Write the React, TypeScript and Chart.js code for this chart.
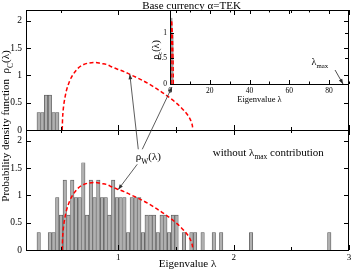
import { useEffect, useRef } from 'react';
import { Chart, registerables } from 'chart.js';

Chart.register(...registerables);

const SERIF = '"Liberation Serif", "Times New Roman", "DejaVu Serif", serif';

const topBinCenters = [0.310, 0.342, 0.374, 0.407, 0.439, 0.471];
const topDensity = [0.32, 0.32, 0.64, 0.64, 0.32, 0.32];

const bottomBinCenters = [
  0.310, 0.407, 0.439, 0.471, 0.504, 0.536, 0.568, 0.601, 0.633, 0.665, 0.697,
  0.730, 0.762, 0.794, 0.827, 0.859, 0.891, 0.923, 0.956, 0.988, 1.020, 1.053,
  1.085, 1.117, 1.150, 1.182, 1.214, 1.246, 1.279, 1.311, 1.343, 1.376, 1.408,
  1.440, 1.473, 1.505, 1.569, 1.634, 1.666, 1.731, 1.828, 1.892, 2.151, 2.829,
];
const bottomDensity = [
  0.32, 0.32, 0.32, 0.96, 0.64, 1.28, 0.64, 1.28, 0.96, 0.96, 1.60,
  0.64, 1.28, 0.96, 1.28, 0.96, 0.96, 0.64, 1.28, 0.96, 0.96, 0.96,
  0.32, 0.96, 0.96, 0.96, 0.32, 0.64, 0.64, 0.64, 0.32, 0.64, 0.64,
  0.32, 0.64, 0.64, 0.32, 0.32, 0.32, 0.32, 0.32, 0.32, 0.32, 0.32,
];

const insetBinCenters = [0.25, 0.75, 1.25];
const insetDensity = [1.28, 1.28, 0.96];

const mpLambda = [
  0.514, 0.517, 0.52, 0.525, 0.53, 0.54, 0.55, 0.575, 0.6, 0.65, 0.7, 0.75, 0.8,
  0.85, 0.9, 0.95, 1.0, 1.05, 1.1, 1.2, 1.3, 1.4, 1.5, 1.55, 1.6, 1.625, 1.635,
  1.643, 1.646,
];
const mpDensity = [
  0, 0.21, 0.31, 0.42, 0.50, 0.62, 0.72, 0.88, 0.99, 1.13, 1.20, 1.23, 1.24,
  1.22, 1.20, 1.15, 1.11, 1.07, 1.02, 0.92, 0.80, 0.66, 0.50, 0.40, 0.28, 0.19,
  0.13, 0.07, 0,
];

const lambdaMax = 87;

const mainXTickValues = [0.5, 1, 1.5, 2, 2.5, 3];
const mainXLabelValues = [1, 2, 3];
const mainYTickValues = [0, 0.5, 1, 1.5, 2];
const mainYLabelText = ['0', '0.5', '1', '1.5', '2'];
const insetXTickValues = [0, 10, 20, 30, 40, 50, 60, 70, 80, 90];
const insetXLabelValues = [0, 20, 40, 60, 80];
const insetYTickValues = [0, 0.5, 1];

type Part = [string, boolean?];

function setFont(ctx: CanvasRenderingContext2D, size: number) {
  ctx.font = `${size}px ${SERIF}`;
}
function richWidth(ctx: CanvasRenderingContext2D, parts: Part[], size: number) {
  let w = 0;
  for (const [t, sub] of parts) {
    setFont(ctx, sub ? size * 0.68 : size);
    w += ctx.measureText(t).width;
  }
  return w;
}
function drawRich(
  ctx: CanvasRenderingContext2D,
  parts: Part[],
  x: number,
  y: number,
  size: number,
  align: 'left' | 'center' = 'left'
) {
  let cx = align === 'center' ? x - richWidth(ctx, parts, size) / 2 : x;
  ctx.textAlign = 'left';
  ctx.textBaseline = 'alphabetic';
  for (const [t, sub] of parts) {
    const s = sub ? size * 0.68 : size;
    setFont(ctx, s);
    ctx.fillText(t, cx, sub ? y + size * 0.32 : y);
    cx += ctx.measureText(t).width;
  }
}
const crisp = (v: number) => Math.round(v) + 0.5;
function seg(ctx: CanvasRenderingContext2D, x1: number, y1: number, x2: number, y2: number) {
  ctx.beginPath();
  ctx.moveTo(x1, y1);
  ctx.lineTo(x2, y2);
  ctx.stroke();
}
function arrow(ctx: CanvasRenderingContext2D, x1: number, y1: number, x2: number, y2: number, head = 5) {
  seg(ctx, x1, y1, x2, y2);
  const a = Math.atan2(y2 - y1, x2 - x1);
  const c = Math.cos(a), s = Math.sin(a), w = head * 0.38;
  ctx.beginPath();
  ctx.moveTo(x2, y2);
  ctx.lineTo(x2 - head * c + w * s, y2 - head * s - w * c);
  ctx.lineTo(x2 - head * c - w * s, y2 - head * s + w * c);
  ctx.closePath();
  ctx.fill();
}

const pts = (xs: number[], ys: number[]) => xs.map((x, i) => ({ x, y: ys[i] }));
const tickFont = (size: number) => ({ family: SERIF, size });
const fixedAxis = (size: number, horizontal: boolean) => (scale: any) => {
  if (horizontal) scale.height = size;
  else scale.width = size;
  scale.paddingLeft = 0;
  scale.paddingRight = 0;
  scale.paddingTop = 0;
  scale.paddingBottom = 0;
};
const setTicks = (values: number[]) => (scale: any) => {
  scale.ticks = values.map((value) => ({ value }));
};
const labelOnly = (values: number[]) => (v: any) => (values.includes(Number(v)) ? String(v) : '');

const histStyle = {
  backgroundColor: '#b0b0b0',
  borderColor: '#505050',
  borderWidth: 0.7,
  barThickness: 3.4,
  grouped: false,
  order: 2,
};
const curveStyle = {
  borderColor: '#ff0000',
  borderWidth: 1.5,
  borderDash: [4, 2.5],
  pointRadius: 0,
  fill: false,
  cubicInterpolationMode: 'monotone',
  order: 1,
};

const noGrid = { display: false, drawTicks: false };
const noBorder = { display: false };

function yAxis() {
  return {
    type: 'linear',
    position: 'left',
    stack: 'main',
    stackWeight: 1,
    min: 0,
    max: 2.2,
    offset: false,
    grid: noGrid,
    border: noBorder,
    ticks: { display: false },
    afterBuildTicks: setTicks(mainYTickValues),
    afterFit: fixedAxis(26, false),
  };
}

const mainDecor = {
  id: 'mainDecor',
  afterDraw(chart: any) {
    const { ctx, chartArea: ca } = chart;
    const xs = chart.scales.x;
    const panels = [chart.scales.yTop, chart.scales.yBot];
    ctx.save();
    ctx.strokeStyle = '#000';
    ctx.fillStyle = '#000';
    ctx.lineWidth = 1;
    const L = Math.round(ca.left), R = Math.round(ca.right);
    for (const p of panels) {
      const T = Math.round(p.top), B = Math.round(p.bottom);
      ctx.strokeRect(L + 0.5, T + 0.5, R - L - 1, B - T);
      for (const v of mainXTickValues) {
        const px = crisp(xs.getPixelForValue(v));
        const len = mainXLabelValues.includes(v) ? 5 : 3;
        seg(ctx, px, B, px, B - len);
        seg(ctx, px, T, px, T + len);
      }
      for (const v of mainYTickValues) {
        const py = crisp(p.getPixelForValue(v));
        seg(ctx, L, py, L + 5, py);
        seg(ctx, R, py, R - 5, py);
      }
    }
    const yB = chart.scales.yBot;
    setFont(ctx, 9);
    ctx.textAlign = 'center';
    ctx.textBaseline = 'top';
    for (const v of mainXLabelValues) {
      ctx.fillText(String(v), xs.getPixelForValue(v), Math.round(yB.bottom) + 3);
    }
    drawRich(ctx, [['Eigenvalue λ']], (ca.left + ca.right) / 2, Math.round(yB.bottom) + 17, 11, 'center');
    drawRich(ctx, [['Base currency α=TEK']], (ca.left + ca.right) / 2 + 4, ca.top - 1, 11, 'center');
    ctx.save();
    ctx.translate(ca.left - 20.5, (ca.top + ca.bottom) / 2 - 4);
    ctx.rotate(-Math.PI / 2);
    drawRich(ctx, [['Probability density function  ρ'], ['C', true], ['(λ)']], 0, 3.5, 11, 'center');
    ctx.restore();
    drawRich(
      ctx,
      [['without λ'], ['max', true], [' contribution']],
      xs.getPixelForValue(2.3),
      yB.getPixelForValue(1.73),
      11,
      'center'
    );
    ctx.restore();
  },
};

function makeInsetDecor(getMain: () => any) {
  return {
    id: 'insetDecor',
    afterDraw(chart: any) {
      const { ctx, chartArea: ca } = chart;
      const xs = chart.scales.x, ys = chart.scales.y;
      ctx.save();
      ctx.strokeStyle = '#000';
      ctx.fillStyle = '#000';
      ctx.lineWidth = 1;
      const L = Math.round(ca.left), R = Math.round(ca.right);
      const T = Math.round(ca.top), B = Math.round(ca.bottom);
      ctx.strokeRect(L + 0.5, T + 0.5, R - L - 1, B - T);
      for (const v of insetXTickValues) {
        const px = crisp(xs.getPixelForValue(v));
        const len = insetXLabelValues.includes(v) ? 4 : 2.5;
        seg(ctx, px, B, px, B - len);
        seg(ctx, px, T, px, T + len);
      }
      for (const v of insetYTickValues) {
        const py = crisp(ys.getPixelForValue(v));
        seg(ctx, L, py, L + 4, py);
        seg(ctx, R, py, R - 4, py);
      }
      ctx.save();
      ctx.translate(ca.left - 14, (ca.top + ca.bottom) / 2 + 3);
      ctx.rotate(-Math.PI / 2);
      drawRich(ctx, [['ρ'], ['c', true], ['(λ)']], 0, 3, 10, 'center');
      ctx.restore();

      ctx.strokeStyle = '#222';
      ctx.fillStyle = '#222';
      ctx.lineWidth = 0.8;
      const tx = xs.getPixelForValue(lambdaMax), ty = ys.getPixelForValue(0);
      arrow(ctx, tx - 8, ty - 14, tx, ty, 5);
      ctx.fillStyle = '#000';
      drawRich(ctx, [['λ'], ['max', true]], tx - 31.5, ty - 19, 10, 'left');

      const main = getMain();
      if (main) {
        const mx = main.scales.x, yT = main.scales.yTop, yB = main.scales.yBot;
        const mL = Math.round(main.chartArea.left);
        // main y tick labels (drawn on the top layer)
        ctx.fillStyle = '#000';
        for (const p of [yT, yB]) {
          for (let i = 0; i < mainYTickValues.length; i++) {
            setFont(ctx, 9.5);
            ctx.textAlign = 'right';
            ctx.textBaseline = 'middle';
            ctx.fillText(mainYLabelText[i], mL - 4, p.getPixelForValue(mainYTickValues[i]));
          }
        }
        const lx = mx.getPixelForValue(1.26), ly = yB.getPixelForValue(1.7);
        drawRich(ctx, [['ρ'], ['W', true], ['(λ)']], lx, ly + 3, 11, 'center');
        ctx.strokeStyle = '#333';
        ctx.fillStyle = '#333';
        ctx.lineWidth = 0.8;
        const iTop = mpLambda.indexOf(1.1);
        arrow(ctx, lx - 10, ly - 8, mx.getPixelForValue(mpLambda[iTop]), yT.getPixelForValue(mpDensity[iTop]), 5);
        arrow(ctx, lx - 6, ly - 8, xs.getPixelForValue(1), ys.getPixelForValue(0) + 3, 5);
        const iBot = mpLambda.indexOf(1.0);
        arrow(ctx, lx - 11, ly + 7, mx.getPixelForValue(mpLambda[iBot]), yB.getPixelForValue(mpDensity[iBot]), 5);
      }
      ctx.restore();
    },
  };
}

export default function App() {
  const mainRef = useRef<HTMLCanvasElement>(null);
  const insetRef = useRef<HTMLCanvasElement>(null);

  useEffect(() => {
    let mainChart: any = null;
    mainChart = new Chart(mainRef.current as HTMLCanvasElement, {
      type: 'bar',
      data: {
        datasets: [
          { type: 'bar', label: 'top hist', data: pts(topBinCenters, topDensity), yAxisID: 'yTop', ...histStyle } as any,
          { type: 'line', label: 'top rhoW', data: pts(mpLambda, mpDensity), yAxisID: 'yTop', ...curveStyle } as any,
          { type: 'bar', label: 'bottom hist', data: pts(bottomBinCenters, bottomDensity), yAxisID: 'yBot', ...histStyle } as any,
          { type: 'line', label: 'bottom rhoW', data: pts(mpLambda, mpDensity), yAxisID: 'yBot', ...curveStyle } as any,
        ],
      },
      options: {
        responsive: false,
        animation: false,
        devicePixelRatio: 1,
        events: [],
        layout: { padding: { left: 0, right: 4, top: 10, bottom: 0 } },
        plugins: { legend: { display: false }, tooltip: { enabled: false }, title: { display: false } },
        scales: {
          x: {
            type: 'linear',
            position: 'bottom',
            min: 0.2,
            max: 3,
            offset: false,
            grid: noGrid,
            border: noBorder,
            ticks: { display: false },
            afterBuildTicks: setTicks(mainXTickValues),
            afterFit: fixedAxis(20, true),
          },
          yBot: yAxis(),
          yTop: yAxis(),
        } as any,
      },
      plugins: [mainDecor],
    } as any);

    const insetChart = new Chart(insetRef.current as HTMLCanvasElement, {
      type: 'bar',
      data: {
        datasets: [
          {
            type: 'bar',
            label: 'inset hist',
            data: pts(insetBinCenters, insetDensity),
            backgroundColor: '#a0a0a0',
            borderWidth: 0,
            barThickness: 1.3,
            grouped: false,
            order: 2,
          } as any,
          { type: 'line', label: 'inset rhoW', data: pts(mpLambda, mpDensity), ...curveStyle } as any,
        ],
      },
      options: {
        responsive: false,
        animation: false,
        devicePixelRatio: 1,
        events: [],
        layout: { padding: { left: 156, right: 4, top: 10, bottom: 165 } },
        plugins: { legend: { display: false }, tooltip: { enabled: false }, title: { display: false } },
        scales: {
          x: {
            type: 'linear',
            position: 'bottom',
            min: 0,
            max: 90,
            offset: false,
            grid: noGrid,
            border: noBorder,
            ticks: {
              autoSkip: false,
              maxRotation: 0,
              padding: 3,
              color: '#000',
              font: tickFont(7.5),
              callback: labelOnly(insetXLabelValues),
            },
            afterBuildTicks: setTicks(insetXTickValues),
            afterFit: fixedAxis(21, true),
            title: { display: true, text: 'Eigenvalue λ', color: '#000', font: { family: SERIF, size: 8.5 }, padding: 0 },
          },
          y: {
            type: 'linear',
            position: 'left',
            min: 0,
            max: 1.44,
            offset: false,
            grid: noGrid,
            border: noBorder,
            ticks: {
              autoSkip: false,
              padding: 3,
              color: '#000',
              font: tickFont(7.5),
              callback: labelOnly(insetYTickValues),
            },
            afterBuildTicks: setTicks(insetYTickValues),
            afterFit: fixedAxis(14, false),
          },
        } as any,
      },
      plugins: [makeInsetDecor(() => mainChart)],
    } as any);

    return () => {
      insetChart.destroy();
      mainChart.destroy();
    };
  }, []);

  return (
    <div style={{ position: 'fixed', left: 0, top: 0, width: 353, height: 270, background: '#fff' }}>
      <canvas ref={mainRef} width={353} height={270} style={{ position: 'absolute', left: 0, top: 0 }} />
      <canvas
        ref={insetRef}
        width={353}
        height={270}
        style={{ position: 'absolute', left: 0, top: 0, pointerEvents: 'none' }}
      />
    </div>
  );
}
